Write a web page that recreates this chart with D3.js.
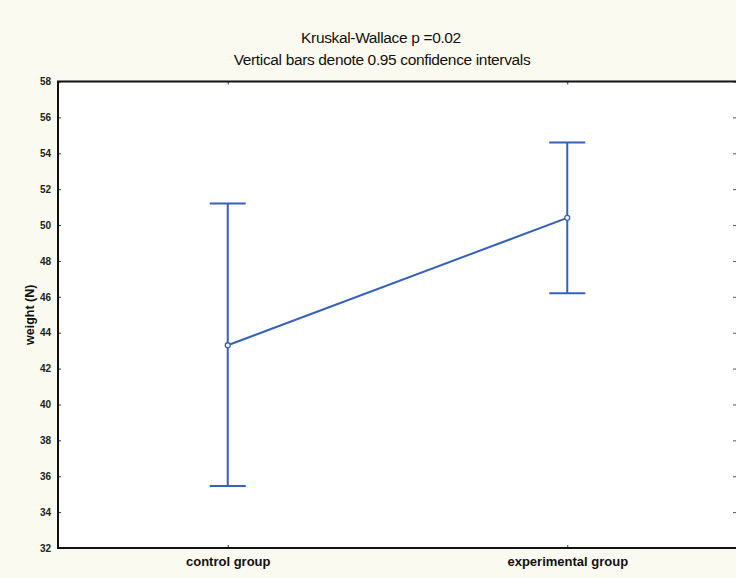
<!DOCTYPE html>
<html>
<head>
<meta charset="utf-8">
<script src="https://cdn.jsdelivr.net/npm/d3@7"></script>
<style>
  html, body { margin: 0; padding: 0; background: #fbfaf0; }
  svg { display: block; }
</style>
</head>
<body>
<script>
const categories = ["control group", "experimental group"];
const means = [43.3, 50.4];
const lower = [35.45, 46.2];
const upper = [51.2, 54.6];
const yTicks = [32, 34, 36, 38, 40, 42, 44, 46, 48, 50, 52, 54, 56, 58];
const title = "Kruskal-Wallace p =0.02";
const subtitle = "Vertical bars denote 0.95 confidence intervals";
const yLabel = "weight (N)";

const W = 736, H = 578;
const m = { left: 58, right: 737, top: 81.5, bottom: 548 };
const blue = "#3562b8";

const svg = d3.select("body").append("svg").attr("width", W).attr("height", H);
svg.append("rect").attr("width", W).attr("height", H).attr("fill", "#fbfaf0");

const x = d3.scalePoint().domain(categories).range([m.left, m.right]).padding(0.5);
const y = d3.scaleLinear().domain([32, 58]).range([m.bottom, m.top]);

// plot area
svg.append("rect").attr("x", m.left).attr("y", m.top)
  .attr("width", m.right - m.left).attr("height", m.bottom - m.top)
  .attr("fill", "#ffffff");

// titles
svg.append("text").attr("x", 381).attr("y", 43).attr("text-anchor", "middle")
  .attr("font-family", "Liberation Sans, Arial, sans-serif").attr("font-size", 15.5)
  .attr("letter-spacing", "-0.35").attr("fill", "#111").text(title);
svg.append("text").attr("x", 382).attr("y", 65).attr("text-anchor", "middle")
  .attr("font-family", "Liberation Sans, Arial, sans-serif").attr("font-size", 15.5)
  .attr("letter-spacing", "-0.35").attr("fill", "#111").text(subtitle);

// left axis
const yAxis = d3.axisLeft(y).tickValues(yTicks).tickSizeInner(-3).tickSizeOuter(0).tickPadding(7);
const gy = svg.append("g").attr("transform", `translate(${m.left},0)`).call(yAxis);
gy.select(".domain").remove();
gy.selectAll("text").attr("font-family", "Liberation Sans, Arial, sans-serif")
  .attr("font-size", 10).attr("font-weight", "bold").attr("fill", "#222");
gy.selectAll("line").attr("stroke", "#333");

// right axis ticks
const yAxisR = d3.axisRight(y).tickValues(yTicks).tickSizeInner(-3).tickSizeOuter(0).tickFormat("");
const gyr = svg.append("g").attr("transform", `translate(${m.right - 1},0)`).call(yAxisR);
gyr.select(".domain").remove();
gyr.selectAll("line").attr("stroke", "#555");

// bottom axis
const xAxis = d3.axisBottom(x).tickSizeInner(-3).tickSizeOuter(0).tickPadding(9);
const gx = svg.append("g").attr("transform", `translate(0,${m.bottom})`).call(xAxis);
gx.select(".domain").remove();
gx.selectAll("text").attr("font-family", "Liberation Sans, Arial, sans-serif")
  .attr("font-size", 13).attr("font-weight", "bold").attr("fill", "#111");
gx.selectAll("line").attr("stroke", "#333");

// top ticks
const xAxisT = d3.axisTop(x).tickSizeInner(-3).tickSizeOuter(0).tickFormat("");
const gxt = svg.append("g").attr("transform", `translate(0,${m.top})`).call(xAxisT);
gxt.select(".domain").remove();
gxt.selectAll("line").attr("stroke", "#333");

// frame
svg.append("rect").attr("x", m.left).attr("y", m.top)
  .attr("width", m.right - m.left).attr("height", m.bottom - m.top)
  .attr("fill", "none").attr("stroke", "#111").attr("stroke-width", 2);

// y label
svg.append("text")
  .attr("transform", `translate(34,${(m.top + m.bottom) / 2}) rotate(-90)`)
  .attr("text-anchor", "middle")
  .attr("font-family", "Liberation Sans, Arial, sans-serif").attr("font-size", 12.5)
  .attr("font-weight", "bold").attr("fill", "#111").text(yLabel);

// error bars
const capHalf = 18;
const data = categories.map((c, i) => ({ c, mean: means[i], lo: lower[i], hi: upper[i] }));
const eb = svg.append("g").attr("stroke", blue).attr("stroke-width", 2).attr("fill", "none");
data.forEach(d => {
  const cx = x(d.c);
  eb.append("line").attr("x1", cx).attr("x2", cx).attr("y1", y(d.lo)).attr("y2", y(d.hi));
  eb.append("line").attr("x1", cx - capHalf).attr("x2", cx + capHalf).attr("y1", y(d.hi)).attr("y2", y(d.hi));
  eb.append("line").attr("x1", cx - capHalf).attr("x2", cx + capHalf).attr("y1", y(d.lo)).attr("y2", y(d.lo));
});

// mean line
svg.append("path").datum(data)
  .attr("d", d3.line().x(d => x(d.c)).y(d => y(d.mean)))
  .attr("fill", "none").attr("stroke", blue).attr("stroke-width", 2);

// markers
svg.selectAll("circle.pt").data(data).join("circle").attr("class", "pt")
  .attr("cx", d => x(d.c)).attr("cy", d => y(d.mean)).attr("r", 2.5)
  .attr("fill", "#ffffff").attr("stroke", blue).attr("stroke-width", 1.3);
</script>
</body>
</html>
